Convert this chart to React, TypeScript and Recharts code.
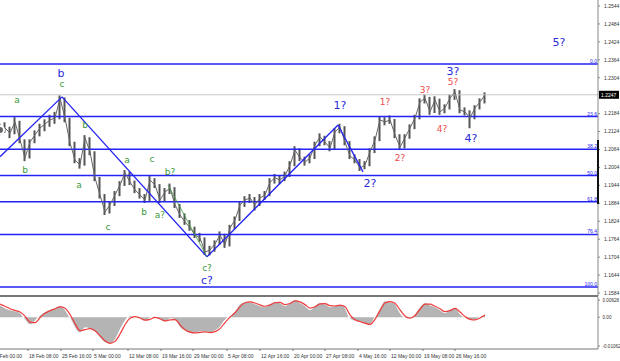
import React from "react";
import { Area, Bar, ComposedChart, Line, ReferenceDot, ReferenceLine, XAxis, YAxis } from "recharts";

// EURUSD H4, one point per ~5px of the original screen
const closes = [
  1.2129, 1.2136, 1.2119, 1.2156, 1.2096, 1.2036, 1.2089, 1.2113, 1.2136, 1.2149,
  1.2163, 1.2169, 1.2236, 1.2169, 1.2086, 1.2029, 1.2012, 1.2103, 1.2056, 1.1969,
  1.1912, 1.1855, 1.1879, 1.1912, 1.1945, 1.1986, 1.1955, 1.1929, 1.1912, 1.1895,
  1.1962, 1.1945, 1.1895, 1.1922, 1.1935, 1.1879, 1.1845, 1.1822, 1.1802, 1.1778,
  1.1768, 1.1721, 1.1728, 1.1748, 1.1778, 1.1745, 1.1802, 1.1828, 1.1879, 1.1895,
  1.1902, 1.1879, 1.1902, 1.1912, 1.1955, 1.1969, 1.1962, 1.1976, 1.2012, 1.2062,
  1.2036, 1.2022, 1.2036, 1.2079, 1.2106, 1.2089, 1.2069, 1.2123, 1.2139, 1.2089,
  1.2042, 1.2029, 1.2002, 1.2012, 1.2056, 1.2096, 1.2163, 1.2156, 1.2163, 1.2113,
  1.2072, 1.2103, 1.2136, 1.2169, 1.2223, 1.2236, 1.2190, 1.2230, 1.2190, 1.2203,
  1.2236, 1.2256, 1.2196, 1.2190, 1.2169, 1.2203, 1.2223, 1.2247,
];
const highs = [
  1.2150, 1.2155, 1.2140, 1.2172, 1.2160, 1.2098, 1.2098, 1.2128, 1.2150, 1.2165,
  1.2180, 1.2190, 1.2245, 1.2238, 1.2170, 1.2090, 1.2035, 1.2112, 1.2105, 1.2058,
  1.1972, 1.1915, 1.1890, 1.1925, 1.1958, 1.1995, 1.1990, 1.1960, 1.1935, 1.1915,
  1.1975, 1.1968, 1.1948, 1.1935, 1.1950, 1.1938, 1.1882, 1.1850, 1.1828, 1.1806,
  1.1785, 1.1770, 1.1742, 1.1760, 1.1790, 1.1782, 1.1812, 1.1840, 1.1890, 1.1908,
  1.1915, 1.1905, 1.1915, 1.1925, 1.1968, 1.1982, 1.1978, 1.1990, 1.2025, 1.2075,
  1.2068, 1.2040, 1.2048, 1.2090, 1.2118, 1.2110, 1.2092, 1.2135, 1.2150, 1.2142,
  1.2092, 1.2048, 1.2032, 1.2025, 1.2068, 1.2108, 1.2175, 1.2172, 1.2178, 1.2166,
  1.2115, 1.2115, 1.2148, 1.2180, 1.2235, 1.2248, 1.2240, 1.2242, 1.2234, 1.2215,
  1.2248, 1.2266, 1.2262, 1.2205, 1.2195, 1.2212, 1.2235, 1.2255,
];
const lows = [
  1.2112, 1.2120, 1.2102, 1.2115, 1.2085, 1.2025, 1.2034, 1.2085, 1.2108, 1.2125,
  1.2140, 1.2150, 1.2165, 1.2155, 1.2075, 1.2018, 1.2000, 1.2010, 1.2045, 1.1958,
  1.1900, 1.1845, 1.1850, 1.1875, 1.1908, 1.1942, 1.1945, 1.1918, 1.1900, 1.1885,
  1.1892, 1.1935, 1.1885, 1.1890, 1.1915, 1.1868, 1.1835, 1.1812, 1.1792, 1.1768,
  1.1755, 1.1712, 1.1710, 1.1722, 1.1745, 1.1735, 1.1740, 1.1798, 1.1825, 1.1872,
  1.1885, 1.1860, 1.1875, 1.1895, 1.1908, 1.1950, 1.1948, 1.1958, 1.1972, 1.2008,
  1.2025, 1.2010, 1.2018, 1.2032, 1.2075, 1.2078, 1.2058, 1.2065, 1.2118, 1.2078,
  1.2032, 1.2018, 1.1992, 1.1998, 1.2008, 1.2052, 1.2092, 1.2145, 1.2150, 1.2102,
  1.2062, 1.2068, 1.2100, 1.2132, 1.2165, 1.2218, 1.2180, 1.2186, 1.2180, 1.2185,
  1.2198, 1.2230, 1.2185, 1.2178, 1.2135, 1.2165, 1.2198, 1.2218,
];

// oscillator pane (histogram + signal)
const oscMain = [
  0.0045, 0.0034, 0.0027, 0.0023, 0.0016, -0.0010, -0.0028, -0.0014, 0.0008, 0.0020,
  0.0027, 0.0034, 0.0042, 0.0027, -0.0003, -0.0039, -0.0058, -0.0039, -0.0043, -0.0054,
  -0.0076, -0.0094, -0.0098, -0.0083, -0.0047, -0.0014, 0.0005, 0.0001, -0.0006, -0.0014,
  -0.0003, 0.0001, -0.0010, -0.0017, -0.0006, -0.0010, -0.0039, -0.0050, -0.0058, -0.0058,
  -0.0054, -0.0054, -0.0058, -0.0050, -0.0036, -0.0010, 0.0005, 0.0023, 0.0049, 0.0056,
  0.0056, 0.0049, 0.0042, 0.0038, 0.0049, 0.0056, 0.0053, 0.0042, 0.0053, 0.0064,
  0.0053, 0.0042, 0.0027, 0.0042, 0.0053, 0.0049, 0.0038, 0.0042, 0.0045, 0.0034,
  -0.0006, -0.0014, -0.0017, -0.0025, -0.0028, 0.0001, 0.0034, 0.0060, 0.0056, 0.0049,
  0.0016, -0.0003, -0.0006, 0.0012, 0.0038, 0.0053, 0.0045, 0.0038, 0.0027, 0.0016,
  0.0027, 0.0034, 0.0012, -0.0003, -0.0010, -0.0010, 0.0001, 0.0012,
];
const oscSignal = [
  0.0048, 0.0040, 0.0031, 0.0025, 0.0019, 0.0004, -0.0018, -0.0020, -0.0002, 0.0014,
  0.0024, 0.0031, 0.0038, 0.0033, 0.0010, -0.0024, -0.0050, -0.0046, -0.0042, -0.0050,
  -0.0068, -0.0087, -0.0096, -0.0089, -0.0062, -0.0028, -0.0004, 0.0002, -0.0003, -0.0011,
  -0.0008, -0.0001, -0.0006, -0.0014, -0.0010, -0.0009, -0.0028, -0.0046, -0.0055, -0.0058,
  -0.0056, -0.0054, -0.0057, -0.0053, -0.0042, -0.0020, 0.0000, 0.0016, 0.0038, 0.0053,
  0.0056, 0.0052, 0.0045, 0.0040, 0.0045, 0.0053, 0.0054, 0.0046, 0.0050, 0.0060,
  0.0056, 0.0046, 0.0033, 0.0038, 0.0049, 0.0050, 0.0042, 0.0041, 0.0044, 0.0038,
  0.0008, -0.0010, -0.0016, -0.0022, -0.0027, -0.0008, 0.0024, 0.0052, 0.0057, 0.0051,
  0.0027, 0.0004, -0.0004, 0.0006, 0.0029, 0.0048, 0.0048, 0.0040, 0.0031, 0.0020,
  0.0024, 0.0032, 0.0019, 0.0002, -0.0008, -0.0010, -0.0003, 0.0008,
];

const priceTicks = [
  1.2544, 1.2484, 1.2424, 1.2364, 1.2304, 1.2184, 1.2124, 1.2064, 1.2004,
  1.1944, 1.1884, 1.1824, 1.1764, 1.1704, 1.1644, 1.1584,
];
const lastPrice = 1.2247;

const oscTicks = [0.00628, 0, -0.01062];
const oscTickLabels = ["0.00628", "0.00", "-0.01062"];

const fibNames = ["0.0", "23.6", "38.2", "50.0", "61.8", "76.4", "100.0"];
const fibPrices = [1.235, 1.2174, 1.2065, 1.1977, 1.1889, 1.178, 1.1604];

const timeLabels = [
  "11 Feb 00:00", "18 Feb 08:00", "25 Feb 16:00", "5 Mar 00:00", "12 Mar 08:00",
  "19 Mar 16:00", "29 Mar 00:00", "5 Apr 08:00", "12 Apr 16:00", "20 Apr 00:00",
  "27 Apr 08:00", "4 May 16:00", "12 May 00:00", "19 May 08:00", "26 May 16:00",
];
const timePos = [-1.6, 5.6, 12.2, 18.6, 25.6, 32.2, 38.6, 45.4, 52, 58.6, 65, 71.6, 78, 84.6, 91];

// main wave zigzag (blue) and the last sub-wave (green)
const waveIdx = [0, 12.4, 41.4, 67.6, 72.6];
const wavePrice = [1.204, 1.224, 1.1705, 1.2146, 1.1989];
const subIdx = [33.6, 41.4];
const subPrice = [1.1945, 1.1705];

const blueLabels: [string, number, number][] = [
  ["b", 12.2, 1.232], ["c?", 41.4, 1.1628], ["1?", 68, 1.2213], ["2?", 74, 1.1952],
  ["3?", 90.6, 1.2327], ["4?", 94.2, 1.2103], ["5?", 111.8, 1.2424],
];
const greenLabels: [string, number, number][] = [
  ["a", 3.4, 1.223], ["b", 5, 1.1996], ["c", 12.4, 1.2283], ["b", 17, 1.2146],
  ["a", 15.8, 1.1945], ["c", 21.6, 1.1805], ["a", 25.4, 1.2029], ["b", 28.8, 1.1855],
  ["c", 30.4, 1.2032], ["b?", 34, 1.1989], ["a?", 32, 1.1845], ["c?", 41.4, 1.1668],
];
const redLabels: [string, number, number][] = [
  ["1?", 77, 1.2223], ["2?", 80, 1.2036], ["3?", 85, 1.2263], ["4?", 88.4, 1.2133], ["5?", 90.6, 1.229],
];

const priceData = closes.map((c, i) => ({ i, close: c, hl: [lows[i], highs[i]] }));
const oscData = oscMain.map((v, i) => ({ i, osc: v, sig: oscSignal[i] }));

const X_MAX = 119.6;
const BLUE = "#2323f5";
const FONT = "Liberation Sans, Arial, sans-serif";
const LABEL_FONT = "DejaVu Sans, Verdana, sans-serif";

const PriceTick = ({ x, y, payload }: any) => (
  <text x={x + 2} y={y + 1.8} fontSize={5} fontFamily={FONT} fill="#333">
    {payload.value.toFixed(4)}
  </text>
);

const OscTick = ({ x, y, payload, index }: any) => (
  <text x={x + 0.5} y={y + 1.8} fontSize={4.6} fontFamily={FONT} fill="#333">
    {oscTickLabels[index] ?? payload.value}
  </text>
);

const TimeTick = ({ x, y, index }: any) => (
  <text x={x + 1} y={y + 5} fontSize={5} fontFamily={FONT} fill="#333">
    {timeLabels[index]}
  </text>
);

const FibLabel = (name: string) => ({ viewBox }: any) => (
  <text x={viewBox.x + viewBox.width - 1} y={viewBox.y - 1} fontSize={5} fontFamily={FONT} fill={BLUE} textAnchor="end">
    {name}
  </text>
);

const PriceBox = ({ viewBox }: any) => (
  <g>
    <rect x={viewBox.x + viewBox.width + 1} y={viewBox.y - 4} width={20} height={8} fill="#000" />
    <text x={viewBox.x + viewBox.width + 3} y={viewBox.y + 1.8} fontSize={5} fontFamily={FONT} fill="#fff">
      {lastPrice.toFixed(4)}
    </text>
  </g>
);

function waveLabel(list: [string, number, number][], color: string, size: number, key: string) {
  return list.map(([t, x, y], k) => (
    <ReferenceDot
      key={key + k}
      x={x}
      y={y}
      r={0}
      fill="none"
      stroke="none"
      label={{ value: t, position: "center", fill: color, fontSize: size, fontFamily: LABEL_FONT }}
    />
  ));
}

export default function App() {
  return (
    <div style={{ position: "absolute", left: 0, top: 0, width: 620, height: 361, background: "#fff", overflow: "hidden" }}>
      <div style={{ position: "absolute", left: 0, top: 0 }}>
        <ComposedChart width={620} height={296} data={priceData} margin={{ top: 0, right: 0, bottom: 0, left: 0 }}>
          <XAxis dataKey="i" type="number" domain={[0, X_MAX]} allowDataOverflow hide />
          <YAxis
            orientation="right"
            width={22}
            domain={[1.1574, 1.2564]}
            allowDataOverflow
            ticks={priceTicks}
            interval={0}
            axisLine={{ stroke: "#888" }}
            tickLine={{ stroke: "#888" }}
            tickSize={2}
            tick={<PriceTick />}
          />
          <ReferenceLine y={lastPrice} stroke="#c8c8c8" strokeWidth={1} label={<PriceBox />} />
          {fibPrices.map((p, k) => (
            <ReferenceLine key={"f" + k} y={p} stroke={BLUE} strokeWidth={1.5} label={FibLabel(fibNames[k])} />
          ))}
          <Bar dataKey="hl" fill="#555" barSize={2} isAnimationActive={false} />
          <Line dataKey="close" type="linear" stroke="#666" strokeWidth={1} dot={false} isAnimationActive={false} />
          {waveIdx.slice(1).map((x, k) => (
            <ReferenceLine
              key={"w" + k}
              segment={[{ x: waveIdx[k], y: wavePrice[k] }, { x, y: wavePrice[k + 1] }]}
              stroke={BLUE}
              strokeWidth={1.3}
            />
          ))}
          <ReferenceLine
            segment={[{ x: subIdx[0], y: subPrice[0] }, { x: subIdx[1], y: subPrice[1] }]}
            stroke="#3c9a3c"
            strokeWidth={0.8}
          />
          {waveLabel(blueLabels, "#2a2ad8", 11, "bl")}
          {waveLabel(greenLabels, "#3a9a3a", 9, "gl")}
          {waveLabel(redLabels, "#f04a4a", 9, "rl")}
        </ComposedChart>
      </div>
      <div style={{ position: "absolute", left: 597, top: 140, width: 2, height: 64, background: "#111" }} />
      <div style={{ position: "absolute", left: 0, top: 295, width: 598, height: 2, background: "#777" }} />
      <div style={{ position: "absolute", left: 0, top: 297 }}>
        <ComposedChart width={620} height={64} data={oscData} margin={{ top: 0, right: 0, bottom: 0, left: 0 }}>
          <XAxis
            dataKey="i"
            type="number"
            domain={[0, X_MAX]}
            allowDataOverflow
            ticks={timePos}
            interval={0}
            height={12}
            axisLine={{ stroke: "#777" }}
            tickLine={{ stroke: "#777" }}
            tickSize={2}
            tick={<TimeTick />}
          />
          <YAxis
            orientation="right"
            width={22}
            domain={[-0.0117, 0.0074]}
            allowDataOverflow
            ticks={oscTicks}
            interval={0}
            axisLine={{ stroke: "#888" }}
            tickLine={{ stroke: "#888" }}
            tickSize={2}
            tick={<OscTick />}
          />
          <Area dataKey="osc" type="monotone" baseValue={0} fill="#b4b4b4" fillOpacity={1} stroke="#fff" strokeWidth={1} isAnimationActive={false} />
          <Line dataKey="sig" type="monotone" stroke="#ee3b3b" strokeWidth={1.2} dot={false} isAnimationActive={false} />
        </ComposedChart>
      </div>
    </div>
  );
}
